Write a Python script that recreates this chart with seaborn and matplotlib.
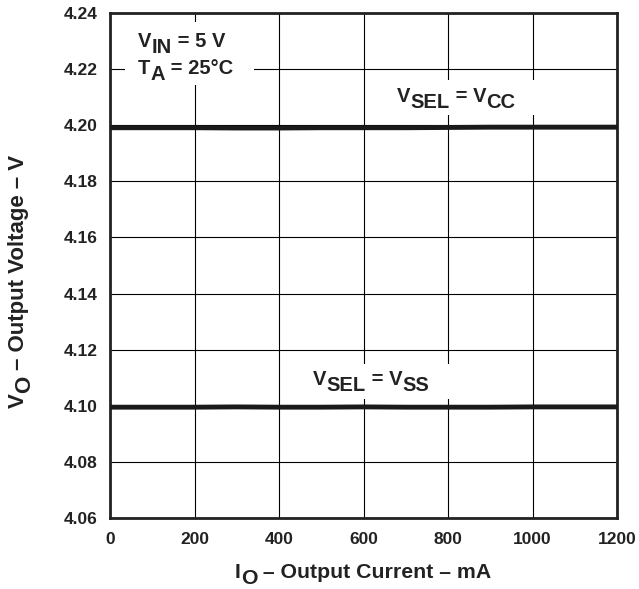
import matplotlib
matplotlib.use("Agg")
import matplotlib.pyplot as plt
from matplotlib.patches import Rectangle
import seaborn as sns
import pandas as pd

current_mA = [0, 100, 200, 300, 400, 500, 600, 700, 800, 900, 1000, 1100, 1200]
vsel_vcc = [4.1991, 4.1991, 4.1991, 4.1990, 4.1990, 4.1991, 4.1991, 4.1991, 4.1992, 4.1993, 4.1993, 4.1993, 4.1993]
vsel_vss = [4.0995, 4.0995, 4.0995, 4.0996, 4.0995, 4.0995, 4.0996, 4.0995, 4.0995, 4.0995, 4.0996, 4.0996, 4.0996]
x_ticks = [0, 200, 400, 600, 800, 1000, 1200]
y_ticks = [4.06, 4.08, 4.10, 4.12, 4.14, 4.16, 4.18, 4.20, 4.22, 4.24]

sns.set_theme(style="white")
plt.rcParams['font.family'] = ['Liberation Sans', 'DejaVu Sans']
plt.rcParams['font.weight'] = 'bold'

INK = '#222222'
W, H = 639, 589

df = pd.concat([
    pd.DataFrame({'I': current_mA, 'V': vsel_vcc, 'sel': 'VCC'}),
    pd.DataFrame({'I': current_mA, 'V': vsel_vss, 'sel': 'VSS'}),
])

fig = plt.figure(figsize=(W / 100, H / 100), dpi=100)
ax = fig.add_axes([110 / W, 1 - 518 / H, 507 / W, 505 / H])

sns.lineplot(data=df, x='I', y='V', units='sel', estimator=None, color='#1a1a1a',
             linewidth=3.5, ax=ax, legend=False, zorder=3)

ax.set_xlim(0, 1200)
ax.set_ylim(4.06, 4.24)
ax.set_xticks(x_ticks)
ax.set_yticks(y_ticks)
ax.set_xticklabels([str(t) for t in x_ticks], fontsize=12.5, fontweight='bold', color=INK)
ax.set_yticklabels([f"{t:.2f}" for t in y_ticks], fontsize=12.5, fontweight='bold', color=INK)
ax.tick_params(axis='x', length=0, pad=10)
ax.tick_params(axis='y', length=0, pad=9)
ax.set_axisbelow(True)
ax.grid(True, color='black', linewidth=0.8)
for s in ax.spines.values():
    s.set_color(INK)
    s.set_linewidth(2)
ax.set_xlabel('')
ax.set_ylabel('')

# white boxes that interrupt the grid behind the labels
for (x0, x1, y0, y1) in [(36, 340, 4.2143, 4.2368), (667, 1024, 4.2036, 4.2161), (452, 821, 4.1025, 4.1150)]:
    ax.add_patch(Rectangle((x0, y0), x1 - x0, y1 - y0, facecolor='white', edgecolor='none', zorder=2))

SUB = 4.5  # points subscript drop


def chain(pieces, xy, size, rotation=0):
    """Draw text pieces one after another; (text, is_sub)."""
    prev = None
    prev_sub = False
    for txt, sub in pieces:
        if prev is None:
            kw = dict(xy=xy, xycoords='figure pixels')
            if rotation:
                kw.update(ha='left', va='bottom')
            else:
                kw.update(ha='left', va='baseline')
        else:
            d = (SUB if sub else -SUB) if sub != prev_sub else 0
            if rotation:
                kw = dict(xy=(0, 1), xycoords=prev, xytext=(d, 0), textcoords='offset points',
                          ha='left', va='bottom')
            else:
                kw = dict(xy=(1, 0), xycoords=prev, xytext=(0, -d), textcoords='offset points',
                          ha='left', va='bottom')
        prev = ax.annotate(txt, fontsize=size, fontweight='bold', color=INK, rotation=rotation,
                           annotation_clip=False, zorder=5, **kw)
        prev_sub = sub


chain([('V', 0), ('IN', 1), (' = 5 V', 0)], (138, H - 47), 14.5)
chain([('T', 0), ('A', 1), (' = 25°C', 0)], (138, H - 74), 14.5)
chain([('V', 0), ('SEL', 1), (' = V', 0), ('CC', 1)], (397, H - 102), 14.5)
chain([('V', 0), ('SEL', 1), (' = V', 0), ('SS', 1)], (313, H - 385), 14.5)
chain([('I', 0), ('O', 1), (' – Output Current – mA', 0)], (235, H - 578), 15.3)
chain([('V', 0), ('O', 1), (' – Output Voltage – V', 0)], (8, H - 408), 16, rotation=90)

fig.savefig('out.png', dpi=100)
